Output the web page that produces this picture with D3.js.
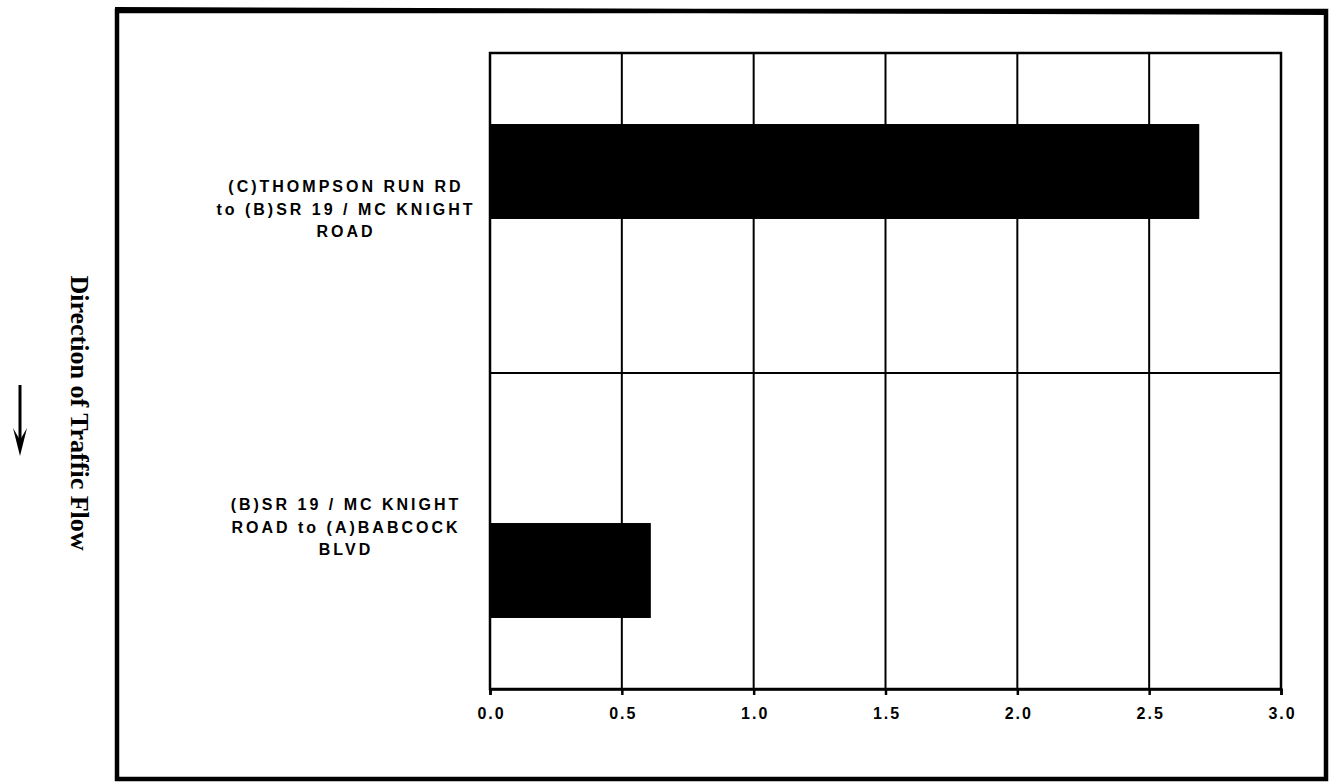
<!DOCTYPE html>
<html>
<head>
<meta charset="utf-8">
<script src="https://cdn.jsdelivr.net/npm/d3@7"></script>
<style>
  html, body { margin: 0; padding: 0; background: #fff; }
  svg { display: block; }
</style>
</head>
<body>
<svg id="chart" width="1330" height="783"></svg>
<script>
// ---- data ----
const categories = [
  "(C)THOMPSON RUN RD to (B)SR 19 / MC KNIGHT ROAD",
  "(B)SR 19 / MC KNIGHT ROAD to (A)BABCOCK BLVD"
];
const categoryLines = [
  ["(C)THOMPSON RUN RD", "to (B)SR 19 / MC KNIGHT", "ROAD"],
  ["(B)SR 19 / MC KNIGHT", "ROAD to (A)BABCOCK", "BLVD"]
];
const values = [2.69, 0.61];
const xTickValues = [0, 0.5, 1.0, 1.5, 2.0, 2.5, 3.0];
const xTickLabels = ["0.0", "0.5", "1.0", "1.5", "2.0", "2.5", "3.0"];
const sideTitle = "Direction of Traffic Flow";

// ---- layout ----
const svg = d3.select("#chart");
const plot = { left: 490, right: 1281, top: 53, bottom: 689 };

// outer frame
svg.append("rect")
  .attr("x", 117).attr("y", 11)
  .attr("width", 1326 - 117).attr("height", 779 - 11)
  .attr("fill", "none").attr("stroke", "#000").attr("stroke-width", 4.5);
svg.append("line")
  .attr("x1", 115).attr("x2", 1328).attr("y1", 9).attr("y2", 13)
  .attr("stroke", "#000").attr("stroke-width", 4);

const x = d3.scaleLinear().domain([0, 3]).range([plot.left, plot.right]);
const yCat = d3.scaleBand().domain(categories).range([plot.top, plot.bottom]).padding(0);
const yBar = d3.scaleBand().domain(categories).range([plot.top, plot.bottom])
  .paddingInner(0.762).paddingOuter(0.178);

const g = svg.append("g");

// vertical gridlines
g.selectAll("line.grid").data(xTickValues).join("line")
  .attr("class", "grid")
  .attr("x1", d => x(d)).attr("x2", d => x(d))
  .attr("y1", plot.top).attr("y2", plot.bottom)
  .attr("stroke", "#000").attr("stroke-width", 2);

// category separators
g.selectAll("line.sep").data(categories.slice(1)).join("line")
  .attr("class", "sep")
  .attr("x1", plot.left).attr("x2", plot.right)
  .attr("y1", d => yCat(d) + 2).attr("y2", d => yCat(d) + 2)
  .attr("stroke", "#000").attr("stroke-width", 2);

// bars
g.selectAll("rect.bar").data(values).join("rect")
  .attr("class", "bar")
  .attr("x", x(0))
  .attr("y", (d, i) => yBar(categories[i]))
  .attr("width", d => x(d) - x(0))
  .attr("height", yBar.bandwidth())
  .attr("fill", "#000");

// plot frame
g.append("rect")
  .attr("x", plot.left).attr("y", plot.top)
  .attr("width", plot.right - plot.left).attr("height", plot.bottom - plot.top)
  .attr("fill", "none").attr("stroke", "#000").attr("stroke-width", 2.5);

// x axis
const xAxis = d3.axisBottom(x)
  .tickValues(xTickValues)
  .tickFormat((d, i) => xTickLabels[i])
  .tickSize(6)
  .tickPadding(13);
const ax = svg.append("g").attr("transform", `translate(0,${plot.bottom})`).call(xAxis);
ax.select(".domain").attr("stroke", "#000").attr("stroke-width", 2.5);
ax.selectAll(".tick line").attr("stroke", "#000").attr("stroke-width", 2.5);
ax.selectAll(".tick text")
  .attr("fill", "#000")
  .attr("dx", "1px")
  .style("font-family", "Arial, 'Liberation Sans', sans-serif")
  .style("font-weight", "bold")
  .style("font-size", "16px")
  .style("letter-spacing", "2px");

// category labels
const labelX = 346;
categories.forEach((c, i) => {
  const lines = categoryLines[i];
  const cy = yCat(c) + yCat.bandwidth() / 2 - 3;
  const lh = 22.5;
  const t = svg.append("text")
    .attr("text-anchor", "middle")
    .style("font-family", "Arial, 'Liberation Sans', sans-serif")
    .style("font-weight", "bold")
    .style("font-size", "16px")
    .style("letter-spacing", "3px")
    .attr("fill", "#000");
  lines.forEach((ln, k) => {
    t.append("tspan")
      .attr("x", labelX)
      .attr("y", cy + (k - (lines.length - 1) / 2) * lh)
      .attr("dy", "0.36em")
      .text(ln);
  });
});

// side title (rotated, reading top to bottom)
svg.append("text")
  .attr("transform", "translate(71,413) rotate(90)")
  .attr("text-anchor", "middle")
  .style("font-family", "'Liberation Serif', 'Times New Roman', serif")
  .style("font-weight", "bold")
  .style("font-size", "26px")
  .attr("fill", "#000")
  .text(sideTitle);

// arrow
svg.append("line")
  .attr("x1", 20).attr("x2", 20).attr("y1", 385).attr("y2", 448)
  .attr("stroke", "#000").attr("stroke-width", 3);
svg.append("path")
  .attr("d", "M13,428 L20,456 L27,428 L20,440 Z")
  .attr("fill", "#000");
</script>
</body>
</html>
